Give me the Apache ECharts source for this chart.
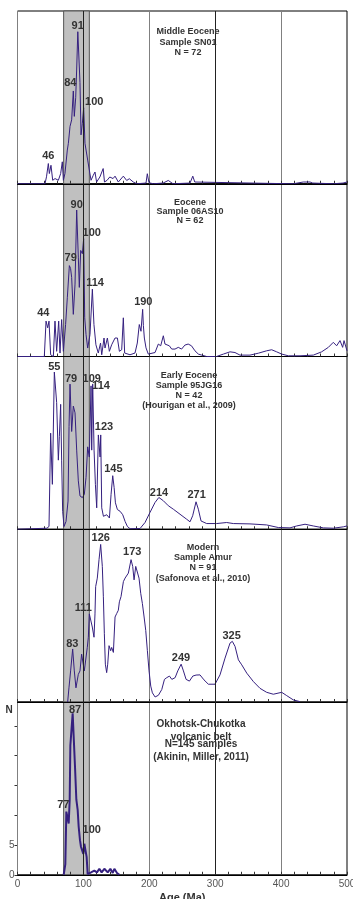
<!DOCTYPE html>
<html><head><meta charset="utf-8">
<script src="https://cdn.jsdelivr.net/npm/echarts@6/dist/echarts.min.js"></script>
<style>html,body{margin:0;padding:0;background:#fff}#c{width:353px;height:899px}</style>
</head><body><div id="c"></div>
<script>
// ---- Data: [age (Ma), relative probability (% of panel height)] ----
const p1 = [[0,0],[41.7,0],[44,4],[46.8,11.7],[48.3,5.9],[50.8,10.7],[53.4,2],[57,3],[62,2],[65.5,5.9],[68,12.7],[69.6,2],[72,5.9],[75.6,19.5],[77.2,23.4],[79.7,33.2],[82.2,37],[84.7,53.7],[86.2,39],[88.3,49.8],[89.8,66.4],[91.5,88],[94.8,58.6],[96.4,28.3],[98.4,35],[100.4,44],[102.4,23.4],[105,23.4],[106.5,13.7],[109,12.7],[111.6,2],[115,4.9],[117.6,6.8],[120,1],[125,3.9],[130,8.8],[132,1],[136,2],[140,3.9],[145,3],[148,4.4],[153,1],[160.6,4.4],[165.7,1.9],[169.7,2.9],[175.7,1],[181,0],[195,0.4],[197,5.8],[199.5,0.6],[206,0],[221,0.4],[228.8,1.9],[236,0],[261.8,0.4],[266,4.4],[269,1],[272,0],[413.5,0],[418.5,0],[433.7,1],[443.9,1],[448,0.4],[479,0],[494,0.4],[500,1]];
const p2 = [[0,0],[40.7,0],[43.3,20.5],[45.8,16.6],[47.8,20.5],[50.3,1],[54.4,0],[56.9,20.5],[59.4,3],[62.5,20.5],[64.5,2],[67,21.4],[69.6,3],[73,18.5],[75.6,34],[78.7,52.6],[80.5,51],[82.2,45.8],[84.7,24.4],[87.3,41.9],[89.8,84.8],[92.3,57.5],[93.8,40],[95.9,61.4],[98.4,59.5],[100.4,68.2],[102,22.4],[104,12.7],[106.5,4.9],[110,12.7],[113.6,39],[116,18.5],[119,6.8],[122.6,2],[126,7.8],[127.8,1],[131.3,10.7],[132.8,4.9],[136.4,10.7],[139.4,3],[142.9,6.8],[148,10.7],[151.6,10.7],[154.6,3],[158.1,3.9],[160.6,22.4],[162.6,2],[170.7,1],[178.3,2],[181.8,7.8],[184.8,18.5],[187.4,14.6],[189.9,27.3],[191,18],[192.5,10.7],[195,5],[198.5,1.4],[201,1.4],[208.7,2.3],[213.7,7.2],[217.3,6.2],[221.3,12],[223.8,7.2],[226.4,8.2],[230.4,6.2],[234,4.3],[239,4.3],[244,5.3],[249,4.3],[254,6.6],[259,7.2],[264,6.2],[269.3,3.3],[274.4,1.4],[279.5,0.8],[287,0],[302,0],[312.4,1.4],[322.5,2.7],[330,2.3],[337.6,0.8],[352.8,0.8],[365.4,1.9],[378,3.3],[385.7,3.9],[393.3,2.7],[400.9,1.4],[411,0.4],[428.7,0.4],[448.9,0.8],[461.5,2.7],[471.7,5.3],[479.2,8.2],[484.3,6.2],[489.4,9.2],[493.4,5.3],[495.5,9.2],[500,3.3]];
const p3 = [[0,0],[44.6,0.6],[47.8,1.6],[50.3,55.6],[52.9,26],[55.9,91],[59.4,73.3],[62,40],[63.5,53.6],[65.5,72.3],[67,40],[68.5,10.4],[70.6,1.6],[73.6,4.5],[76.7,16.3],[78.2,59.5],[79.7,84],[82.2,56.6],[84.7,71.3],[87.3,67.4],[89.8,45.8],[92.3,28],[94.8,19.3],[98.4,18.3],[101.4,20.2],[104,30],[106.5,47.7],[109,41.8],[111.6,83],[112.6,45.8],[114.1,84],[116.2,45.8],[118.2,26],[120.2,12.4],[122.7,54.6],[125.3,41.8],[126.3,54.6],[127.8,12.4],[130.4,7.5],[135.4,8.4],[139.5,6.5],[142,20.2],[144.5,31],[146.6,24.2],[148.6,15.3],[151.6,11.4],[155.7,10.4],[159.7,8.4],[163.3,4.5],[166.8,1.6],[170.8,0.3],[185.9,0.4],[193.5,3.9],[201,9.7],[208.7,15.5],[214.5,18.4],[221.3,16.5],[228.9,13.6],[236.5,11.6],[246.6,8.7],[256.7,5.8],[261.8,4.3],[265.8,7.8],[270.9,15.9],[274.4,11.6],[278.5,4.8],[287.1,3.3],[302.2,3.3],[304.7,4.3],[317.4,3.9],[327.5,3.3],[352.8,3.1],[378,2.5],[395.7,1],[413.5,0.8],[423.6,1.9],[436.3,2.9],[448.9,1.9],[464.1,0.8],[479.3,0.6],[494.4,1.4],[500,1.9]];
const p4 = [[76.1,0],[78.1,8.2],[80.6,18],[83.7,30.7],[86.2,18],[88.7,8.2],[92.3,16],[94.8,18],[97.3,27.7],[99.9,28.7],[101.4,18],[103.9,19],[105.9,31.6],[107.5,37.5],[109,51],[111.5,50],[113.5,43.4],[116.1,37.5],[117.6,51],[118.6,66.8],[121.1,71.7],[123.7,82.4],[126.2,91.2],[128.7,78.5],[130.3,60.9],[131.8,39.5],[133.3,21.9],[135.3,17],[136.9,21.9],[138.9,32.6],[141.4,29.7],[142.9,31.6],[145.5,28.7],[148,49.2],[150.5,51.2],[153,53.1],[154.6,58],[157.1,61],[160.7,69.7],[163.2,71.7],[165.7,70.7],[168.2,74.6],[170.8,74.6],[172.3,82.4],[174.8,78.5],[176.9,70.7],[179.4,78.5],[181.9,79.5],[184.4,71.7],[187,62.9],[189.5,57],[192.1,49.2],[194.6,41.4],[197.1,29.7],[199.6,18],[202.2,9.2],[204.7,5.3],[208.8,2.9],[213.8,3.9],[218.9,7.2],[223,13.1],[226.5,14.1],[230.6,15],[234.2,13.1],[239.2,14.1],[243.2,18],[248.3,21.9],[251.8,18],[255.8,13.1],[260.9,12.1],[266,15],[271,15.6],[276.9,15.7],[283,12.8],[289.6,10.3],[299.7,10.3],[307.3,15.7],[314.9,25.4],[322.5,34.1],[326,35.1],[330.1,32.2],[335.2,24.4],[340.3,21.5],[347.9,16.7],[358,11.8],[368,7.9],[378.1,5.6],[388.2,4.5],[400.9,5.6],[408.5,3.7],[418.6,1.2],[428.7,0.2]];
// Okhotsk-Chukotka: N (count)
const p5 = [[70.1,0],[72.6,1.8],[74.1,10.6],[76.1,10.9],[77.7,8.6],[79.2,12.6],[80.2,21.7],[82.2,21.7],[83.7,27.1],[86.2,27.1],[87.2,18.3],[89.3,12.6],[91.3,10.9],[92.8,8.1],[94.8,5.8],[96.3,4.7],[97.9,4.9],[99.9,3.5],[101.4,5.2],[103.9,4.9],[104.9,3],[106.5,0.1],[109,0],[111.6,0.4],[114.1,0.1],[116.6,0.7],[120.6,0.4],[124.2,1],[127.7,0.4],[131.8,1],[136.9,0.4],[140.9,1],[144.5,0.3],[147,1],[151,0.3],[154.6,0]];

// Peak labels: [text, age, value]
const lab1 = [["91",91.4,91.3],["84",80.1,58.2],["100",116.5,47.2],["46",46.7,16.2]];
const lab2 = [["90",89.8,87.9],["100",112.6,71.7],["79",80.7,56.9],["114",117.6,42.5],["190",190.9,31.4],["44",39.2,25.1]];
const lab3 = [["55",55.8,94],["79",81.2,87.2],["109",112.6,87.2],["114",126.7,82.7],["123",131.3,59.1],["145",145.4,34.9],["214",214.7,20.8],["271",271.9,19.8]];
const lab4 = [["126",126.3,95.2],["173",174.2,87],["111",99.8,54.5],["83",83.2,33.5],["249",248.1,25.4],["325",325,38.4]];
const lab5 = [["87",87.3,27.7],["77",69.5,11.7],["100",112.6,7.6]];

const titles = [
  ["Middle Eocene","Sample SN01","N = 72"],
  ["Eocene","Sample 06AS10","N = 62"],
  ["Early Eocene","Sample 95JG16","N = 42","(Hourigan et al., 2009)"],
  ["Modern","Sample Amur","N = 91","(Safonova et al., 2010)"],
  ["Okhotsk-Chukotka","volcanic belt","N=145 samples","(Akinin, Miller, 2011)"]
];
const xTicks = [0,100,200,300,400,500];
const yTicks5 = [0,5,10,15,20,25];
const yLabels5 = [0,5];
const band = [70,109];

// ---- Layout / style ----
const FONT = '"Liberation Sans", Arial, Helvetica, sans-serif';
const TOP = 11, PH = 172.75, LEFT = 17.5, RIGHT = 6;
const LINE = '#35207f';
const panels = [p1,p2,p3,p4,p5];
const labels = [lab1,lab2,lab3,lab4,lab5];
const yMax = [100,100,100,100,29];

const grid = [], xAxis = [], yAxis = [], series = [];
panels.forEach((d,i) => {
  const last = i === 4;
  grid.push({left:LEFT, right:RIGHT, top:TOP + i*PH, height:PH, show:true, borderColor:'#000', borderWidth:1,
    backgroundColor:'transparent', containLabel:false, outerBoundsMode:'none'});
  xAxis.push({
    gridIndex:i, type:'value', min:xTicks[0], max:xTicks[xTicks.length-1], interval:100, z:2,
    axisLine:{show:true, onZero:false, lineStyle:{color:'#000', width:1}},
    axisTick:{show:true, inside:true, length:3, lineStyle:{color:'#333'}},
    minorTick:{show:true, splitNumber:5, length:3, lineStyle:{color:'#333'}},
    splitLine:{show:true, lineStyle:{color:'#808080', width:1}},
    axisLabel:{show:last, fontSize:10, color:'#555', margin:4, fontFamily:FONT},
    name: last ? 'Age (Ma)' : '', nameLocation:'middle', nameGap:18,
    nameTextStyle:{fontSize:11, fontWeight:'bold', color:'#333', fontFamily:FONT}
  });
  yAxis.push(last ? {
    gridIndex:i, type:'value', min:0, max:yMax[i], interval:5,
    axisLine:{show:true, lineStyle:{color:'#000'}},
    axisTick:{show:true, length:3, customValues:yTicks5, lineStyle:{color:'#333'}},
    axisLabel:{show:true, customValues:yLabels5, fontSize:10, color:'#555', margin:3, fontFamily:FONT},
    splitLine:{show:false}
  } : {
    gridIndex:i, type:'value', min:0, max:yMax[i], show:false, splitLine:{show:false}
  });
  // grey band
  series.push({
    type:'line', xAxisIndex:i, yAxisIndex:i, data:[[0,0]], z:1, silent:true,
    showSymbol:false, lineStyle:{opacity:0}, tooltip:{show:false},
    markArea:{silent:true, itemStyle:{color:'#c0c0c0', borderColor:'#555', borderWidth:1},
      data:[[{xAxis:band[0]},{xAxis:band[1]}]]}
  });
  // curve
  series.push({
    type:'line', xAxisIndex:i, yAxisIndex:i, data:d, z:3, showSymbol:false, symbol:'none',
    lineStyle:{color:LINE, width: last ? 2 : 1}, animation:false,
    markLine:{silent:true, symbol:'none', label:{show:false},
      lineStyle:{color:'#222', width:1, type:'solid'},
      data:[{xAxis:100},{xAxis:300}]},
    markPoint:{
      symbol:'circle', symbolSize:1, itemStyle:{color:'rgba(0,0,0,0)'},
      label:{show:true, position:'inside', formatter:p=>p.name, fontSize:11, fontWeight:'bold', color:'#333', fontFamily:FONT},
      data: labels[i].map(l => ({name:l[0], coord:[l[1], l[2]]}))
    }
  });
});

// Panel titles
const titlePos = [
  {x:188, y:[32,43,53], size:9},
  {x:190, y:[203,212,221], size:9},
  {x:189, y:[376,386,396,406], size:9},
  {x:203, y:[548,558,568,579], size:9},
  {x:201, y:[724,737,744,757], size:10}
];
const graphic = [];
titles.forEach((t,i) => {
  t.forEach((s,j) => {
    graphic.push({type:'text', x:titlePos[i].x, y:titlePos[i].y[j], z:10,
      style:{text:s, fill:'#333', font:'bold ' + titlePos[i].size + 'px ' + FONT, textAlign:'center', textVerticalAlign:'middle'}});
  });
});
graphic.push({type:'text', x:9, y:710, z:10, style:{text:'N', fill:'#333', font:'bold 10px ' + FONT, textAlign:'center', textVerticalAlign:'middle'}});

const chart = echarts.init(document.getElementById('c'), null, {renderer:'canvas'});
chart.setOption({animation:false, backgroundColor:'#fff', grid, xAxis, yAxis, series, graphic});
</script></body></html>
